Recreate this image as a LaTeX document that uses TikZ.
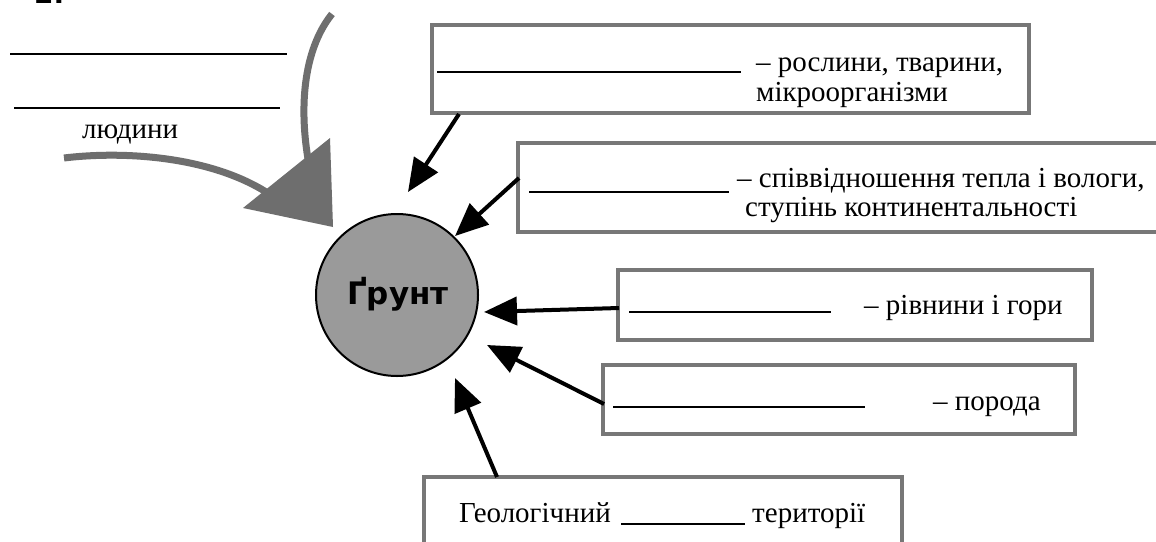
\documentclass[tikz,border=0pt]{standalone}
\usepackage{fontspec}
\setmainfont{Liberation Serif}
\newfontfamily\grfont{DejaVu Sans}
\usetikzlibrary{arrows.meta}
\definecolor{boxgray}{HTML}{777777}
\definecolor{arrgray}{HTML}{6E6E6E}
\definecolor{circgray}{HTML}{9A9A9A}
\tikzset{
  infobox/.style={draw=boxgray, line width=3.5pt, rectangle, outer sep=0pt, inner sep=0pt, anchor=north west},
  txt/.style={anchor=base west, inner sep=0pt, font=\fontsize{29}{30}\selectfont},
  blank/.style={line width=1.8pt},
  blackarrow/.style={line width=4pt, -{Triangle[length=33pt,width=28pt]}},
  grayline/.style={draw=arrgray, line width=7pt},
}
\begin{document}
\begin{tikzpicture}[x=1pt,y=-1pt]
\useasboundingbox (0,0) rectangle (1156,541);
\fill[white] (0,0) rectangle (1156,541);
\clip (0,0) rectangle (1156,541);

% number (cut off at the top edge, as in the reference)
\node[txt, font=\grfont\bfseries\fontsize{28}{30}\selectfont] (num) at (34,3) {2.};

% top-left blanks
\draw[blank] (10,54) -- (287,54);
\draw[blank] (14,108) -- (280,108);
\node[txt] (lyud) at (82,138) {людини};

% gray curved arrows
\draw[grayline] (332,14) .. controls (303,50) and (298,110) .. (310,170);
\draw[grayline] (64,158) .. controls (130,150) and (220,158) .. (275,198);
\fill[arrgray] (330,138) -- (243,208) -- (333,227) -- cycle;

% circle
\node[circle, draw=black, line width=2pt, fill=circgray, minimum size=162pt, inner sep=0pt] (grunt) at (397,295) {};
\node[inner sep=0pt, font=\grfont\bfseries\fontsize{31}{31}\selectfont] (gruntlbl) at (398,294) {Ґрунт};

% boxes
\node[infobox, minimum width=597pt, minimum height=88pt] (b1) at (432,25) {};
\node[infobox, minimum width=650pt, minimum height=89pt] (b2) at (518,143) {};
\node[infobox, minimum width=474pt, minimum height=70pt] (b3) at (618,270) {};
\node[infobox, minimum width=472pt, minimum height=69pt] (b4) at (603,365) {};
\node[infobox, minimum width=478pt, minimum height=90pt] (b5) at (424,477) {};

% box 1 content
\draw[blank] (437,72) -- (741,72);
\node[txt] (t1a) at (756,71) {– рослини, тварини,};
\node[txt] (t1b) at (756,101) {мікроорганізми};

% box 2 content
\draw[blank] (529,192) -- (729,192);
\node[txt] (t2a) at (737,187) {– співвідношення тепла і вологи,};
\node[txt] (t2b) at (745,216) {ступінь континентальності};

% box 3 content
\draw[blank] (629,312) -- (831,312);
\node[txt] (t3) at (864,314) {– рівнини і гори};

% box 4 content
\draw[blank] (613,407) -- (865,407);
\node[txt] (t4) at (933,410) {– порода};

% box 5 content
\node[txt] (t5a) at (459,522) {Геологічний};
\draw[blank] (621,524) -- (745,524);
\node[txt] (t5b) at (752,522) {території};

% arrow coordinates
\coordinate (s1) at (459,114);
\coordinate (e1) at (408,192);
\coordinate (s2) at (519,178);
\coordinate (e2) at (455,236);
\coordinate (s3) at (619,308);
\coordinate (e3) at (484,312);
\coordinate (s4) at (604,404);
\coordinate (e4) at (487,345);
\coordinate (s5) at (497,477);
\coordinate (e5) at (455,378);

\draw[blackarrow] (s1) -- (e1);
\draw[blackarrow] (s2) -- (e2);
\draw[blackarrow] (s3) -- (e3);
\draw[blackarrow] (s4) -- (e4);
\draw[blackarrow] (s5) -- (e5);
\end{tikzpicture}
\end{document}
